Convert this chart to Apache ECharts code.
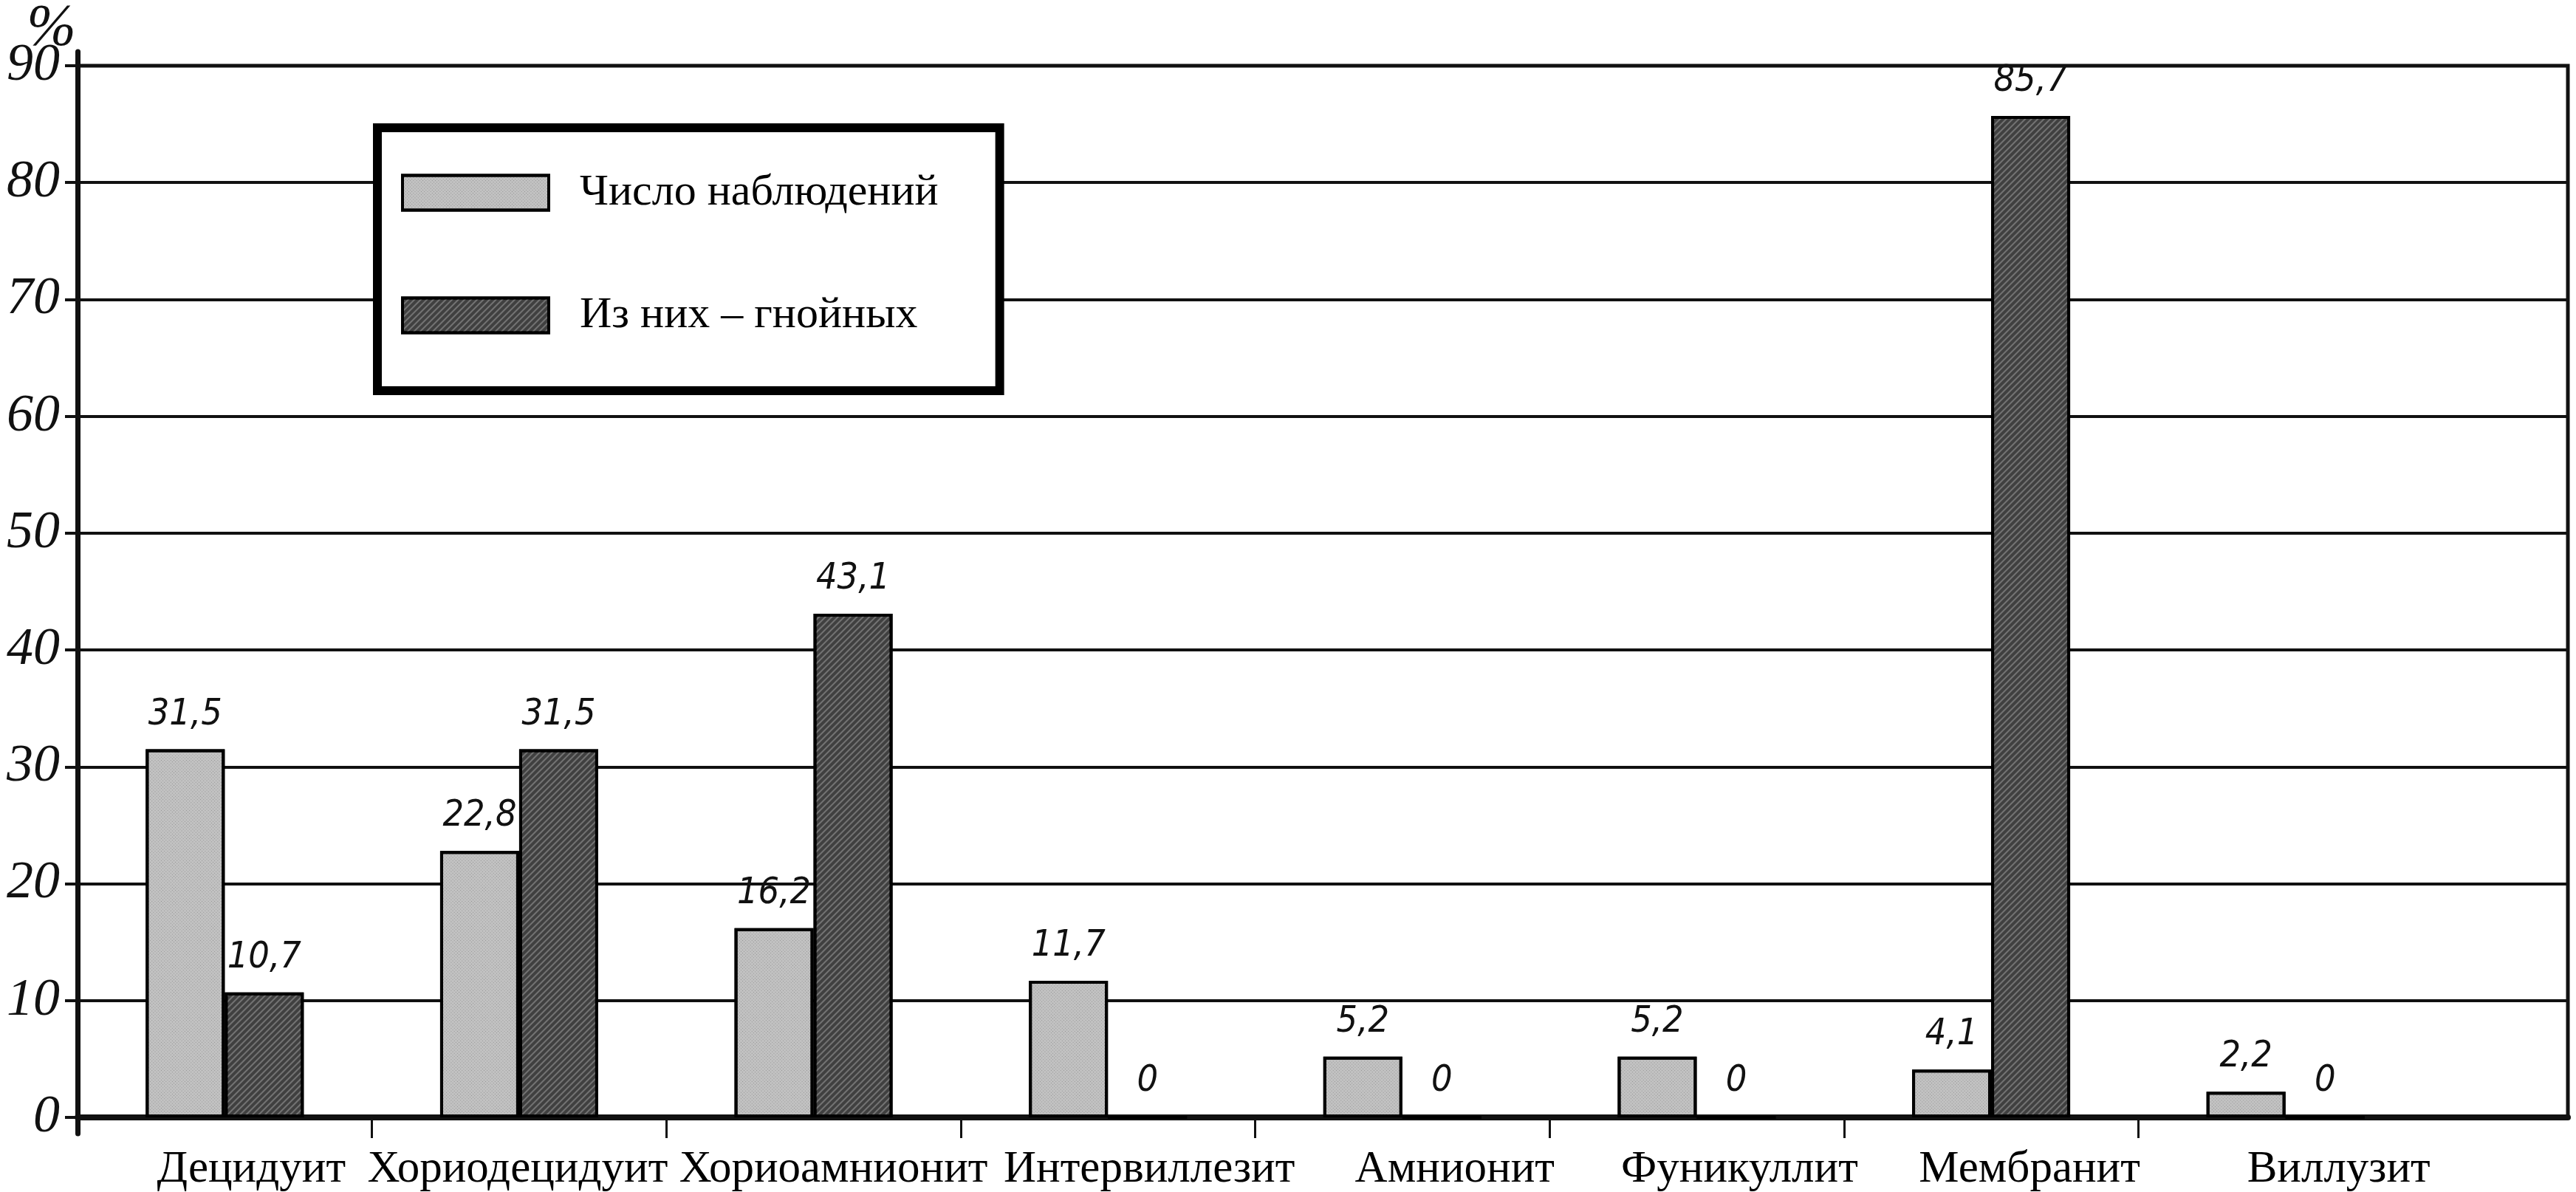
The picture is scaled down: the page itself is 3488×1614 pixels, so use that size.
<!DOCTYPE html>
<html>
<head>
<meta charset="utf-8">
<script src="https://cdn.jsdelivr.net/npm/echarts@6/dist/echarts.min.js"></script>
<style>
html,body{margin:0;padding:0;background:#fff;}
#chart{width:3488px;height:1614px;}
</style>
</head>
<body>
<div id="chart"></div>
<script>
const categories = ['Децидуит','Хориодецидуит','Хориоамнионит','Интервиллезит','Амнионит','Фуникуллит','Мембранит','Виллузит'];
const observed = [31.5, 22.8, 16.2, 11.7, 5.2, 5.2, 4.1, 2.2];
const purulent = [10.7, 31.5, 43.1, 0, 0, 0, 85.7, 0];
const seriesNames = ['Число наблюдений', 'Из них – гнойных'];
const yMin = 0, yMax = 90, yStep = 10;
const yUnit = '%';

const serif = "'Liberation Serif', 'DejaVu Serif', serif";
const narrow = "'Liberation Sans Narrow', 'DejaVu Sans Condensed', 'Liberation Sans', sans-serif";
const ink = '#111';

// layout: outer frame spans 105..3477 px, category band area spans 105..3294 px
const frameLeft = 105, frameRight = 3477, bandRight = 3294;
const bandW = (bandRight - frameLeft) / categories.length;
const frameMax = (frameRight - frameLeft) / bandW;
const boundaryTicks = categories.slice(1).map((_, i) => i + 1);
// horizontal nudge of each category label (px) as typeset in the original
const labelNudge = [36, -2, 27, 56, 71, 58, 52, 72];

const categoryItems = categories.map((c, i) => ({
  value: c,
  textStyle: { padding: labelNudge[i] >= 0 ? [0, 0, 0, 2 * labelNudge[i]] : [0, -2 * labelNudge[i], 0, 0] }
}));

const valueLabel = {
  show: true, position: 'top', distance: 22,
  formatter: p => String(p.value).replace('.', ','),
  fontFamily: narrow, fontStyle: 'italic', fontSize: 50, color: ink
};

const chart = echarts.init(document.getElementById('chart'));
chart.setOption({
  animation: false,
  backgroundColor: '#fff',
  aria: { enabled: true, decal: { show: true } },
  grid: [
    { left: frameLeft, right: 3488 - frameRight, top: 89, bottom: 101, show: true, borderColor: ink, borderWidth: 5, backgroundColor: 'transparent' },
    { left: frameLeft, right: 3488 - bandRight, top: 89, bottom: 101 },
    { left: frameLeft, right: 3488 - frameRight, top: 48, bottom: 79 }
  ],
  xAxis: [
    { gridIndex: 0, type: 'value', min: 0, max: frameMax, position: 'bottom',
      axisLine: { show: true, onZero: false, lineStyle: { color: ink, width: 8 } },
      axisTick: { show: true, customValues: boundaryTicks, length: 28, lineStyle: { color: ink, width: 3 } },
      axisLabel: { show: false }, splitLine: { show: false } },
    { gridIndex: 1, type: 'category', data: categoryItems,
      axisLine: { show: false },
      axisTick: { show: false },
      axisLabel: { interval: 0, margin: 40, fontFamily: serif, fontSize: 61, color: '#000' } },
    { gridIndex: 2, type: 'value', min: 0, max: 1, show: false }
  ],
  yAxis: [
    { gridIndex: 0, type: 'value', min: yMin, max: yMax, interval: yStep,
      axisLine: { show: false },
      axisTick: { show: true, length: 17, lineStyle: { color: ink, width: 4 } },
      axisLabel: { margin: 24, fontFamily: serif, fontStyle: 'italic', fontSize: 72, color: ink },
      splitLine: { show: true, lineStyle: { color: ink, width: 4 } } },
    { gridIndex: 1, type: 'value', min: yMin, max: yMax, interval: yStep, show: false },
    { gridIndex: 2, type: 'value', min: 0, max: 1,
      name: yUnit, nameLocation: 'end', nameGap: -10,
      nameTextStyle: { fontFamily: serif, fontStyle: 'italic', fontSize: 80, color: ink, align: 'right', padding: [0, 2, 0, 0] },
      axisLine: { show: true, onZero: false, lineStyle: { color: ink, width: 7 } },
      axisTick: { show: false }, axisLabel: { show: false }, splitLine: { show: false } }
  ],
  legend: {
    data: seriesNames, orient: 'vertical', left: 511, top: 173,
    icon: 'rect', itemWidth: 198, itemHeight: 47, itemGap: 106,
    padding: [58, 83, 72, 32],
    backgroundColor: '#fff', borderColor: '#000', borderWidth: 12,
    itemStyle: { borderColor: '#000', borderWidth: 4 },
    textStyle: { fontFamily: serif, fontSize: 60, color: '#000', padding: [0, 0, 0, 37], lineHeight: 47 }
  },
  series: [
    { name: seriesNames[0], type: 'bar', xAxisIndex: 1, yAxisIndex: 1, data: observed,
      barWidth: 107, barGap: '0%',
      itemStyle: { color: '#c2c2c2', borderColor: '#000', borderWidth: 4,
        decal: { symbol: 'rect', symbolSize: 1, dashArrayX: [1, 2], dashArrayY: [1, 2], rotation: Math.PI / 4, color: 'rgba(60,60,60,0.35)' } },
      label: valueLabel },
    { name: seriesNames[1], type: 'bar', xAxisIndex: 1, yAxisIndex: 1, data: purulent,
      barWidth: 107, barGap: '0%',
      itemStyle: { color: '#404040', borderColor: '#000', borderWidth: 4,
        decal: { symbol: 'rect', symbolSize: 1, dashArrayX: [1, 0], dashArrayY: [2, 4], rotation: -Math.PI / 4, color: 'rgba(210,210,210,0.35)' } },
      label: valueLabel }
  ]
});
</script>
</body>
</html>
